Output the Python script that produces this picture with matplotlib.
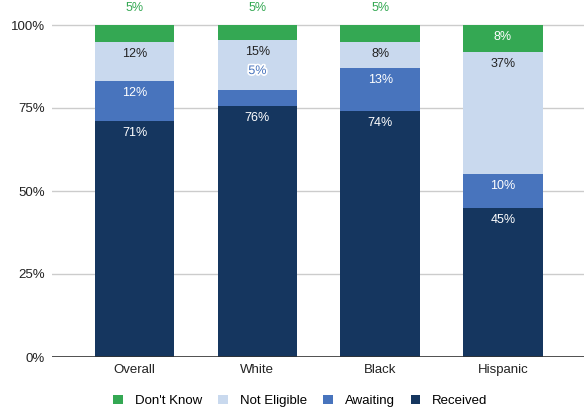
import matplotlib
matplotlib.use("Agg")
import matplotlib.pyplot as plt
import matplotlib.patheffects as pe
import numpy as np

plt.rcParams['font.family'] = ['Liberation Sans', 'DejaVu Sans']

groups = ["Overall", "White", "Black", "Hispanic"]
received = [71, 75.6, 74, 45]
awaiting = [12, 4.8, 13, 10]
not_eligible = [12, 15, 8, 37]
dont_know = [5, 4.6, 5, 8]

series = [
    ("Received", received, "#15365f", "white"),
    ("Awaiting", awaiting, "#4874bd", "white"),
    ("Not Eligible", not_eligible, "#c9d9ee", "#222222"),
    ("Don't Know", dont_know, "#34a853", "white"),
]

fig = plt.figure(figsize=(5.87, 4.09), dpi=100)
# axes: 0% at y=357px, 100% at y=25px, top at figure top
ax = fig.add_axes([52 / 587, 1 - 357 / 409, 532 / 587, 357 / 409])
ymax = 100 * 357 / 332
ax.set_ylim(0, ymax)
ax.set_xlim(-0.673, 3.66)

x = np.arange(len(groups))
width = 0.647
bottom = np.zeros(len(groups))
px = ymax / 357  # data units per pixel

handles = {}
for name, vals, color, tcol in series:
    vals = np.array(vals)
    bars = ax.bar(x, vals, width, bottom=bottom, color=color, zorder=3, label=name)
    handles[name] = bars
    for i, v in enumerate(vals):
        top = bottom[i] + v
        lab = f"{v:.0f}%"
        if name == "Don't Know" and v < 6:
            ax.text(x[i], top + 17 * px, lab, ha="center", va="center",
                    color="#34a853", fontsize=9, zorder=5, clip_on=False)
        elif name == "Awaiting" and v < 6:
            ax.text(x[i], top + 19 * px, lab, ha="center", va="center",
                    color="#4874bd", fontsize=9, zorder=5,
                    path_effects=[pe.withStroke(linewidth=2.5, foreground="white")])
        else:
            ax.text(x[i], top - 12 * px, lab, ha="center", va="center",
                    color=tcol, fontsize=9, zorder=5)
    bottom += vals

ax.set_yticks([0, 25, 50, 75, 100])
ax.set_yticklabels(["0%", "25%", "50%", "75%", "100%"])
ax.yaxis.grid(True, color="#cccccc", linewidth=1, zorder=0)
ax.axhline(0, color="#333333", linewidth=1.2, zorder=6)
ax.set_xticks(x)
ax.set_xticklabels(groups)
ax.tick_params(axis="both", length=0, labelsize=9.5, colors="#222222")
ax.tick_params(axis="y", pad=5)
ax.tick_params(axis="x", pad=5)
for s in ax.spines.values():
    s.set_visible(False)

order = ["Don't Know", "Not Eligible", "Awaiting", "Received"]
fig.legend([handles[n] for n in order], order, loc="center",
           bbox_to_anchor=(0.512, 8 / 409), ncol=4, frameon=False, fontsize=9.5,
           handlelength=0.75, handleheight=0.75, columnspacing=1.2, handletextpad=0.9)

fig.savefig("out.png", dpi=100)
